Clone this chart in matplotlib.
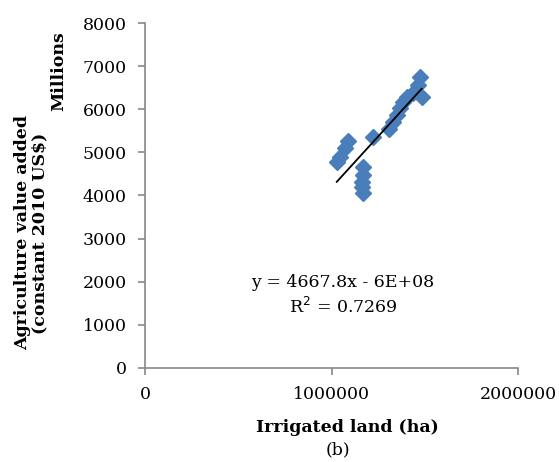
import matplotlib
matplotlib.use('Agg')
import matplotlib.pyplot as plt
import numpy as np

# irrigated land (ha) and agriculture value added (millions, constant 2010 US$)
irrigated_ha = [1474600, 1463800, 1483600, 1437000, 1403000, 1385000, 1367000, 1350000,
                1330000, 1308000, 1224000, 1090000, 1072000, 1046000, 1028000, 1170000,
                1170000, 1162000, 1162000, 1170000]
value_added = [6758, 6566, 6294, 6380, 6294, 6178, 6032, 5870, 5714, 5545, 5366, 5266,
               5097, 4902, 4786, 4670, 4478, 4322, 4206, 4053]
x_ticks = [0, 1000000, 2000000]
y_ticks = [0, 1000, 2000, 3000, 4000, 5000, 6000, 7000, 8000]

plt.rcParams['font.family'] = ['DejaVu Serif']
plt.rcParams['font.size'] = 12

fig = plt.figure(figsize=(5.59, 4.62), dpi=100)
ax = fig.add_axes([0.2594, 0.2035, 0.6673, 0.7467])

x = np.array(irrigated_ha, dtype=float)
y = np.array(value_added, dtype=float)
ax.plot(x, y, linestyle='none', marker='D', markersize=8.5, color='#4A7EBB', zorder=2)

# linear trendline from the points
slope, intercept = np.polyfit(x, y, 1)
xl = np.array([x.min(), x.max()])
ax.plot(xl, slope * xl + intercept, color='black', linewidth=1.3, zorder=3)

ax.text(1062000, 1972, 'y = 4667.8x - 6E+08', ha='center', va='center', fontsize=12.5)
ax.text(1062000, 1415, 'R$^2$ = 0.7269', ha='center', va='center', fontsize=12.5)

ax.set_xlim(0, 2000000)
ax.set_ylim(0, 8000)
ax.set_xticks(x_ticks)
ax.set_xticklabels([str(v) for v in x_ticks])
ax.set_yticks(y_ticks)
ax.set_yticklabels([str(v) for v in y_ticks])

for side in ['top', 'right']:
    ax.spines[side].set_visible(False)
for side in ['left', 'bottom']:
    ax.spines[side].set_color('#888888')
    ax.spines[side].set_linewidth(1.2)
ax.tick_params(direction='out', length=5, width=1.2, color='#888888', pad=8, labelsize=12.5)

fig.text(31 / 559, 1 - 233 / 462, 'Agriculture value added\n(constant 2010 US$)',
         rotation=90, ha='center', va='center', fontweight='bold', fontsize=12.5, linespacing=1.0)
fig.text(59 / 559, 1 - 71 / 462, 'Millions', rotation=90, ha='center', va='center',
         fontweight='bold', fontsize=12.5)
fig.text(347 / 559, 1 - 428 / 462, 'Irrigated land (ha)', ha='center', va='center',
         fontweight='bold', fontsize=12.5)
fig.text(338 / 559, 1 - 450 / 462, '(b)', ha='center', va='center', fontsize=12.5)

fig.savefig('out.png', dpi=100)
